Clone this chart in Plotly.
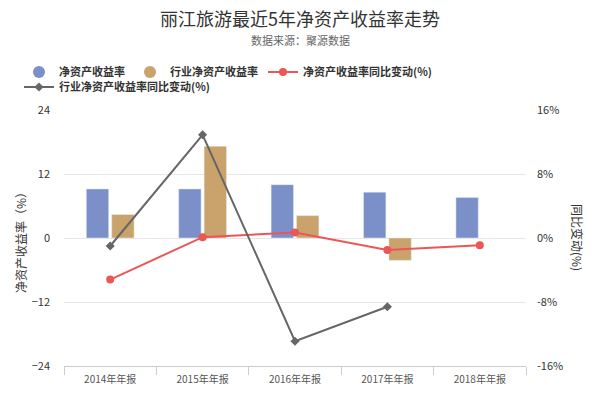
import plotly.graph_objects as go

years = ["2014年年报", "2015年年报", "2016年年报", "2017年年报", "2018年年报"]
roe = [9.2, 9.2, 10.0, 8.6, 7.6]
industry_roe = [4.4, 17.2, 4.2, -4.2, None]
roe_yoy = [-5.2, 0.1, 0.7, -1.5, -0.9]
industry_yoy = [-1.0, 12.9, -12.9, -8.6, None]

blue = "#7b90c9"
gold = "#c9a36b"
red = "#ec5656"
gray = "#666666"
font = "Noto Sans CJK SC"

# the page puts the figure 8px in from the corner, so pixel positions
# taken from the picture are moved back by that much
OFF = 8
W, H = 600, 400
L, R, T, B = 64 - OFF, 526 - OFF, 110 - OFF, 366 - OFF


def px(x):
    return (x - OFF - L) / (R - L)


def py(y):
    return (B - (y - OFF)) / (B - T)


def cy(y):
    return 1 - (y - OFF) / H


def cx(x):
    return (x - OFF) / W


fig = go.Figure()

# bars (their legend entries are circle markers added below)
fig.add_trace(go.Bar(x=years, y=roe, marker_color=blue, showlegend=False))
fig.add_trace(go.Bar(x=years, y=industry_roe, marker_color=gold, showlegend=False))

# legend entries for bars
fig.add_trace(go.Scatter(x=[None], y=[None], mode="markers", name="净资产收益率",
                         marker=dict(size=12, color=blue)))
fig.add_trace(go.Scatter(x=[None], y=[None], mode="markers", name="行业净资产收益率",
                         marker=dict(size=12, color=gold)))

# lines on right axis
fig.add_trace(go.Scatter(x=years, y=roe_yoy, yaxis="y2", mode="lines+markers",
                         line=dict(color=red, width=2), marker=dict(size=8, color=red),
                         name="净资产收益率同比变动(%)"))
fig.add_trace(go.Scatter(x=years, y=industry_yoy, yaxis="y2", mode="lines+markers",
                         line=dict(color=gray, width=2),
                         marker=dict(size=7, color=gray, symbol="diamond"),
                         name="行业净资产收益率同比变动(%)", legend="legend2"))

legend_style = dict(orientation="h", xref="container", yref="container",
                    xanchor="left", yanchor="middle", itemwidth=30,
                    font=dict(size=11, color="#333333", weight="bold"),
                    bgcolor="rgba(0,0,0,0)")

fig.update_layout(
    width=W, height=H,
    margin=dict(l=L, r=W - R, t=T, b=H - B, autoexpand=False),
    paper_bgcolor="white", plot_bgcolor="white",
    font=dict(family=font, color="#333333", size=11),
    title=dict(text="丽江旅游最近5年净资产收益率走势", x=cx(300), xanchor="center",
               y=cy(20), yanchor="middle", font=dict(size=18, color="#333333")),
    barmode="group", bargap=0.45, bargroupgap=0.12,
    legend=dict(legend_style, x=cx(19), y=cy(72)),
    legend2=dict(legend_style, x=cx(19), y=cy(87)),
    xaxis=dict(type="category", tickson="boundaries", ticks="outside", ticklen=8,
               tickcolor="#cccccc", showline=True, linecolor="#cccccc",
               showgrid=False, tickfont=dict(size=10, color="#555555"),
               ticklabelstandoff=4),
    yaxis=dict(range=[-24, 24], tickvals=[-24, -12, 0, 12, 24], showgrid=True,
               gridcolor="#e6e6e6", zeroline=False, showline=False,
               tickfont=dict(size=11, color="#333333"), ticklabelstandoff=13),
    yaxis2=dict(range=[-16, 16], tickvals=[-16, -8, 0, 8, 16],
                ticktext=["-16%", "-8%", "0%", "8%", "16%"],
                overlaying="y", side="right", showgrid=False, zeroline=False,
                tickfont=dict(size=11, color="#333333"), ticklabelstandoff=10),
    annotations=[
        dict(text="数据来源：聚源数据", xref="paper", yref="paper", x=px(300),
             y=py(40), xanchor="center", yanchor="middle", showarrow=False,
             font=dict(size=11, color="#666666")),
        dict(text="净资产收益率（%）", xref="paper", yref="paper",
             x=px(20), y=py(240), textangle=-90, showarrow=False,
             xanchor="center", yanchor="middle",
             font=dict(size=12, color="#333333")),
        dict(text="同比变动(%)", xref="paper", yref="paper",
             x=px(578), y=py(237), textangle=90, showarrow=False,
             xanchor="center", yanchor="middle",
             font=dict(size=12, color="#333333")),
    ],
)

fig.write_html("out.html")
